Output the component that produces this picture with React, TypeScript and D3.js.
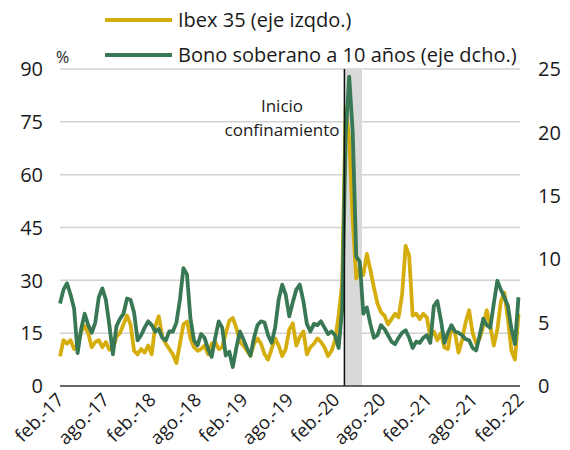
import React from "react";
import * as d3 from "d3";

// Biweekly observations starting 2017-02-01
const startDate = "2017-02-01";
const stepDays = 14;

// Ibex 35 volatility (left axis, %)
const ibex = [
  8.4, 13.0, 12.0, 13.0, 10.5, 11.5, 15.5, 17.0, 15.0, 11.0,
  12.5, 13.0, 11.0, 12.5, 10.3, 10.5, 14.0, 15.0, 17.5, 20.0,
  17.5, 10.0, 9.0, 10.5, 9.5, 11.5, 9.0, 17.0, 19.8, 14.0,
  12.0, 10.5, 9.0, 6.5, 12.0, 17.5, 18.3, 13.5, 11.0, 10.0,
  10.5, 11.5, 9.0, 12.0, 12.5, 10.5, 11.0, 15.0, 18.5, 19.3,
  16.5, 12.5, 11.5, 10.0, 8.5, 12.0, 13.5, 12.0, 9.0, 7.5,
  10.5, 13.5, 11.5, 8.5, 10.5, 16.0, 17.8, 11.5, 14.0, 15.5,
  9.0, 11.0, 12.0, 13.5, 12.5, 11.0, 8.5, 10.0, 13.0, 20.0,
  29.0, 79.0, 70.0, 47.0, 30.5, 33.5, 31.5, 37.5, 33.0, 28.0,
  23.5, 21.0, 20.0, 17.5, 19.0, 20.5, 19.5, 26.0, 39.8, 37.0,
  20.0, 20.5, 19.0, 20.5, 19.5, 14.0, 15.5, 13.0, 15.0, 11.0,
  10.5, 17.0, 15.0, 9.5, 13.0, 18.0, 21.5, 15.0, 12.0, 13.5,
  17.0, 21.5, 17.0, 11.5, 16.0, 24.0, 26.5, 19.0, 10.0, 7.5, 20.5,
];

// 10-year sovereign bond volatility (right axis, %)
const bono = [
  6.5, 7.6, 8.1, 7.2, 6.1, 2.6, 4.5, 5.7, 4.8, 4.2,
  5.0, 7.0, 7.7, 6.8, 4.8, 2.5, 4.7, 5.3, 5.7, 6.9,
  6.8, 5.8, 3.6, 4.0, 4.6, 5.1, 4.8, 4.3, 4.5, 3.8,
  3.6, 4.3, 4.3, 5.0, 6.8, 9.3, 8.8, 5.3, 3.6, 3.2,
  4.1, 3.8, 2.9, 2.3, 3.8, 5.1, 4.6, 2.4, 2.7, 1.5,
  3.0, 4.3, 3.7, 3.0, 2.4, 3.8, 4.8, 5.1, 5.0, 4.0,
  3.4, 4.6, 6.8, 8.0, 7.2, 5.5, 6.6, 7.6, 8.0, 6.7,
  4.9, 4.3, 4.9, 4.8, 5.1, 4.6, 4.1, 4.3, 4.0, 3.0,
  6.0, 19.8, 24.4, 20.0, 10.2, 9.8, 5.7, 6.2, 4.9, 3.8,
  4.0, 4.8, 4.5, 4.0, 3.5, 3.3, 3.8, 4.2, 4.4, 3.8,
  3.0, 3.5, 3.4, 3.8, 4.0, 3.4, 6.3, 6.7, 5.2, 3.4,
  4.2, 4.8, 4.3, 4.2, 4.0, 3.7, 3.6, 3.0, 2.8, 4.0,
  5.3, 4.8, 4.6, 6.5, 8.3, 7.6, 7.0, 6.3, 4.5, 3.3, 7.0,
];

const xDomain = ["2017-02-01", "2022-02-01"];
const tickDates = [
  "2017-02-01", "2017-08-01", "2018-02-01", "2018-08-01", "2019-02-01", "2019-08-01",
  "2020-02-01", "2020-08-01", "2021-02-01", "2021-08-01", "2022-02-01",
];
const tickLabels = [
  "feb.-17", "ago.-17", "feb.-18", "ago.-18", "feb.-19", "ago.-19",
  "feb.-20", "ago.-20", "feb.-21", "ago.-21", "feb.-22",
];
const leftTicks = [0, 15, 30, 45, 60, 75, 90];
const rightTicks = [0, 5, 10, 15, 20, 25];
const lockdownStart = "2020-03-06";
const lockdownEnd = "2020-05-15";
const seriesNames = ["Ibex 35 (eje izqdo.)", "Bono soberano a 10 años (eje dcho.)"];
const annotationLines = ["Inicio", "confinamiento"];
const unitLabel = "%";

const YELLOW = "#D5AD0C";
const GREEN = "#387854";
const FONT = "'Open Sans', sans-serif";

export default function App() {
  const W = 570;
  const H = 450;
  const left = 60, right = 520, top = 69, bottom = 386;
  const parse = d3.utcParse("%Y-%m-%d");
  const t0 = parse(startDate) as Date;
  const dates = ibex.map((_, i) => d3.utcDay.offset(t0, i * stepDays));

  const x = d3.scaleUtc().domain(xDomain.map((d) => parse(d) as Date)).range([left, right]);
  const yL = d3.scaleLinear().domain([0, 90]).range([bottom, top]);
  const yR = d3.scaleLinear().domain([0, 25]).range([bottom, top]);

  const lineL = d3.line<number>().x((_, i) => x(dates[i])).y((d) => yL(d));
  const lineR = d3.line<number>().x((_, i) => x(dates[i])).y((d) => yR(d));

  const xs = x(parse(lockdownStart) as Date);
  const xe = x(parse(lockdownEnd) as Date);

  return (
    <svg width={W} height={H} style={{ position: "absolute", left: 0, top: 0, background: "#fff" }} fontFamily={FONT}>
      {/* gridlines */}
      {leftTicks.filter((t) => t > 0).map((t) => (
        <line key={t} x1={left} x2={right} y1={yL(t)} y2={yL(t)} stroke="#d2d2d2" strokeWidth={1.5} />
      ))}
      {/* lockdown band */}
      <rect x={xs} y={top} width={xe - xs} height={bottom - top} fill="#d9d9d9" />
      {/* series */}
      <path d={lineL(ibex) || ""} fill="none" stroke={YELLOW} strokeWidth={3.8} strokeLinejoin="round" />
      <path d={lineR(bono) || ""} fill="none" stroke={GREEN} strokeWidth={3.8} strokeLinejoin="round" />
      {/* lockdown line */}
      <line x1={xs} x2={xs} y1={top} y2={bottom} stroke="#111" strokeWidth={1.5} />
      {/* zero axis */}
      <line x1={left} x2={right} y1={bottom} y2={bottom} stroke="#333" strokeWidth={1.6} />
      {/* left ticks */}
      {leftTicks.map((t) => (
        <text key={t} x={43} y={yL(t)} dy="0.36em" textAnchor="end" fontSize={20} fill="#1a1a1a">{t}</text>
      ))}
      {/* right ticks */}
      {rightTicks.map((t) => (
        <text key={t} x={538} y={yR(t)} dy="0.36em" textAnchor="start" fontSize={20} fill="#1a1a1a">{t}</text>
      ))}
      <text x={56} y={63} fontSize={16} fill="#1a1a1a">{unitLabel}</text>
      {/* x ticks */}
      {tickDates.map((d, i) => {
        const tx = x(parse(d) as Date);
        return (
          <text key={d} transform={`translate(${tx + 5},${bottom + 15}) rotate(-45)`} textAnchor="end" fontSize={18.5} fill="#1a1a1a">
            {tickLabels[i]}
          </text>
        );
      })}
      {/* annotation */}
      <text x={282} y={112} textAnchor="middle" fontSize={17} fill="#1a1a1a">{annotationLines[0]}</text>
      <text x={282} y={136} textAnchor="middle" fontSize={17} fill="#1a1a1a">{annotationLines[1]}</text>
      {/* legend */}
      <line x1={105} x2={172} y1={20} y2={20} stroke={YELLOW} strokeWidth={4} />
      <text x={178} y={27} fontSize={20} fill="#1a1a1a">{seriesNames[0]}</text>
      <line x1={105} x2={172} y1={55} y2={55} stroke={GREEN} strokeWidth={4} />
      <text x={178} y={62} fontSize={20} fill="#1a1a1a">{seriesNames[1]}</text>
    </svg>
  );
}
